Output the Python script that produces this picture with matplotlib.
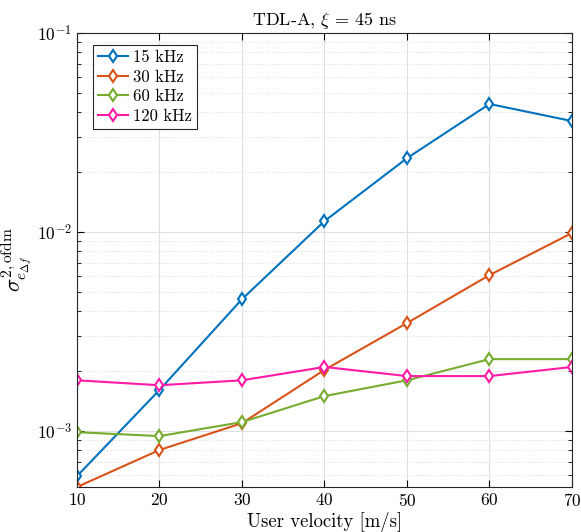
import matplotlib
matplotlib.use("Agg")
import matplotlib.pyplot as plt
from matplotlib.ticker import LogLocator, NullFormatter

plt.rcParams['font.family'] = 'cmr10'
plt.rcParams['mathtext.fontset'] = 'cm'
plt.rcParams['axes.formatter.use_mathtext'] = True

velocity = [10, 20, 30, 40, 50, 60, 70]
labels = ['15 kHz', '30 kHz', '60 kHz', '120 kHz']
s15 = [5.94e-4, 1.61e-3, 4.6e-3, 1.135e-2, 2.35e-2, 4.4e-2, 3.61e-2]
s30 = [5.24e-4, 8.04e-4, 1.096e-3, 2.03e-3, 3.49e-3, 6.08e-3, 9.89e-3]
s60 = [9.88e-4, 9.44e-4, 1.11e-3, 1.50e-3, 1.80e-3, 2.30e-3, 2.30e-3]
s120 = [1.80e-3, 1.70e-3, 1.80e-3, 2.10e-3, 1.89e-3, 1.89e-3, 2.10e-3]
colors = ['#0072BD', '#D95319', '#77AC30', '#FF1AA6']

fig = plt.figure(figsize=(5.81, 5.32), dpi=100)
ax = fig.add_axes([0.1325, 0.0846, 0.852, 0.8534])
for s, lab, c in zip([s15, s30, s60, s120], labels, colors):
    ax.plot(velocity, s, color=c, lw=1.5, marker='d', ms=6.5, mfc='white',
            mew=1.5, label=lab)
ax.set_yscale('log')
ax.set_xlim(10, 70)
ax.set_ylim(min(s30), 1e-1)
ax.set_xticks(velocity)
ax.yaxis.set_minor_locator(LogLocator(base=10, subs=range(2, 10)))
ax.yaxis.set_minor_formatter(NullFormatter())
ax.grid(True, which='major', color='#DFDFDF', lw=0.8, ls='-')
ax.grid(True, which='minor', axis='y', color='#DFDFDF', lw=0.8, ls=':')
ax.set_axisbelow(True)
ax.tick_params(which='both', direction='in', top=True, right=True, labelsize=12.5)
ax.tick_params(which='major', length=5)
ax.tick_params(which='minor', length=3)
for sp in ax.spines.values():
    sp.set_color('#262626')
    sp.set_linewidth(0.8)
ax.set_xlabel('User velocity [m/s]', fontsize=13.5, labelpad=2)
ax.set_ylabel(r'$\sigma^{2,\mathrm{ofdm}}_{e_{\Delta f}}$', fontsize=16, labelpad=2)
ax.set_title(r'TDL-A, $\xi$ = 45 ns', fontsize=13, pad=6)
leg = ax.legend(loc='upper left', fontsize=12, fancybox=False, edgecolor='#262626',
                framealpha=1, borderpad=0.3, labelspacing=0.25, handlelength=1.8,
                handletextpad=0.3, borderaxespad=0,
                bbox_to_anchor=(16/495, 1 - 12/454))
leg.get_frame().set_linewidth(0.8)
fig.savefig('out.png', dpi=100)
